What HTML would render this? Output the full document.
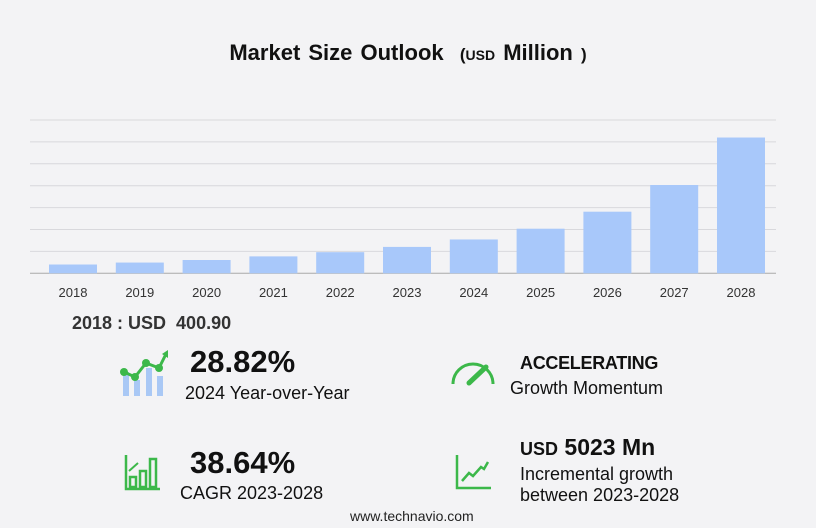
<!DOCTYPE html>
<html><head><meta charset="utf-8"><style>
body{margin:0;background:#f3f3f5;font-family:"Liberation Sans",sans-serif;color:#111;}
#root{position:relative;width:816px;height:528px;overflow:hidden;background:#f3f3f5;}
.t{position:absolute;white-space:nowrap;}
</style></head><body>
<div id="root">
<div class="t" style="left:0;width:816px;text-align:center;top:40px;font-size:22px;font-weight:bold;word-spacing:2px;">Market Size Outlook &nbsp;<span style="font-size:17px">(</span><span style="font-size:14px">USD</span> Million <span style="font-size:17px">)</span></div>
<svg id="chart" width="816" height="310" style="position:absolute;left:0;top:0"></svg>
<div class="t" style="left:72px;top:313px;font-size:18px;font-weight:bold;color:#333;">2018 : USD&nbsp; 400.90</div>

<svg style="position:absolute;left:118px;top:350px" width="52" height="48">
<rect x="5" y="22" width="6" height="24" fill="#a9c8f5"/><rect x="16" y="30" width="6" height="16" fill="#a9c8f5"/><rect x="28" y="18" width="6" height="28" fill="#a9c8f5"/><rect x="39" y="26" width="6" height="20" fill="#a9c8f5"/>
<polyline points="6,22 17,27 28,13 41,18 48,4" fill="none" stroke="#3cb84a" stroke-width="3"/>
<circle cx="6" cy="22" r="4" fill="#3cb84a"/><circle cx="17" cy="27" r="4" fill="#3cb84a"/><circle cx="28" cy="13" r="4" fill="#3cb84a"/><circle cx="41" cy="18" r="4" fill="#3cb84a"/><polygon points="44,4 50,0 50,8" fill="#3cb84a"/></svg>
<div class="t" style="left:190px;top:344px;font-size:31px;font-weight:bold;">28.82%</div>
<div class="t" style="left:185px;top:383px;font-size:18px;">2024 Year-over-Year</div>

<svg style="position:absolute;left:450px;top:360px" width="46" height="26">
<path d="M3,24 A20,20 0 0 1 43,24" fill="none" stroke="#3cb84a" stroke-width="3"/><line x1="19" y1="23" x2="36" y2="7" stroke="#3cb84a" stroke-width="5" stroke-linecap="round"/></svg>
<div class="t" style="left:520px;top:353px;font-size:18px;font-weight:bold;letter-spacing:-0.3px;">ACCELERATING</div>
<div class="t" style="left:510px;top:378px;font-size:18px;">Growth Momentum</div>

<svg style="position:absolute;left:124px;top:455px" width="36" height="36">
<polyline points="2,0 2,34 36,34" fill="none" stroke="#3cb84a" stroke-width="2.5"/><rect x="6" y="22" width="6" height="10" fill="none" stroke="#3cb84a" stroke-width="2.5"/><rect x="16" y="16" width="6" height="16" fill="none" stroke="#3cb84a" stroke-width="2.5"/><rect x="26" y="4" width="6" height="28" fill="none" stroke="#3cb84a" stroke-width="2.5"/><polyline points="5,16 14,8" stroke="#3cb84a" stroke-width="2" fill="none"/></svg>
<div class="t" style="left:190px;top:445px;font-size:31px;font-weight:bold;">38.64%</div>
<div class="t" style="left:180px;top:483px;font-size:18px;">CAGR 2023-2028</div>

<svg style="position:absolute;left:455px;top:455px" width="36" height="36">
<polyline points="2,0 2,33 36,33" fill="none" stroke="#3cb84a" stroke-width="2.5"/><polyline points="7,26 14,18 18,21 26,12 29,14 33,7" fill="none" stroke="#3cb84a" stroke-width="2.5"/></svg>
<div class="t" style="left:520px;top:434px;font-size:23px;font-weight:bold;"><span style="font-size:18px">USD</span> 5023 Mn</div>
<div class="t" style="left:520px;top:464px;font-size:18px;line-height:21px;">Incremental growth<br>between 2023-2028</div>
<div class="t" style="left:350px;top:508px;font-size:14px;color:#222;">www.technavio.com</div>
</div>
<script>
const categories=["2018","2019","2020","2021","2022","2023","2024","2025","2026","2027","2028"];
const values=[401,490,607,772,964,1205,1545,2036,2813,4032,6200];
const gridTicks=[0,1000,2000,3000,4000,5000,6000,7000];
const svg=document.getElementById('chart');const NS='http://www.w3.org/2000/svg';
const y0=273.3,pxPer=21.9/1000;
function y(v){return y0-v*pxPer;}
function x(i){return 73+i*66.8;}
gridTicks.forEach(t=>{const l=document.createElementNS(NS,'line');


l.setAttribute('x1',30);l.setAttribute('x2',776);l.setAttribute('y1',y(t));l.setAttribute('y2',y(t));
l.setAttribute('stroke',t===0?'#aaa':'#d8d8dc');l.setAttribute('stroke-width',1);svg.appendChild(l);});
categories.forEach((c,i)=>{const r=document.createElementNS(NS,'rect');


r.setAttribute('x',x(i)-24);r.setAttribute('width',48);r.setAttribute('y',y(values[i]));r.setAttribute('height',y0-y(values[i]));r.setAttribute('fill','#a8c8fa');svg.appendChild(r);
const t=document.createElementNS(NS,'text');


t.setAttribute('x',x(i));t.setAttribute('y',297);t.setAttribute('text-anchor','middle');t.setAttribute('font-size','13');t.setAttribute('fill','#333');t.setAttribute('font-family','Liberation Sans, sans-serif');t.textContent=c;svg.appendChild(t);});
</script>
</body></html>
